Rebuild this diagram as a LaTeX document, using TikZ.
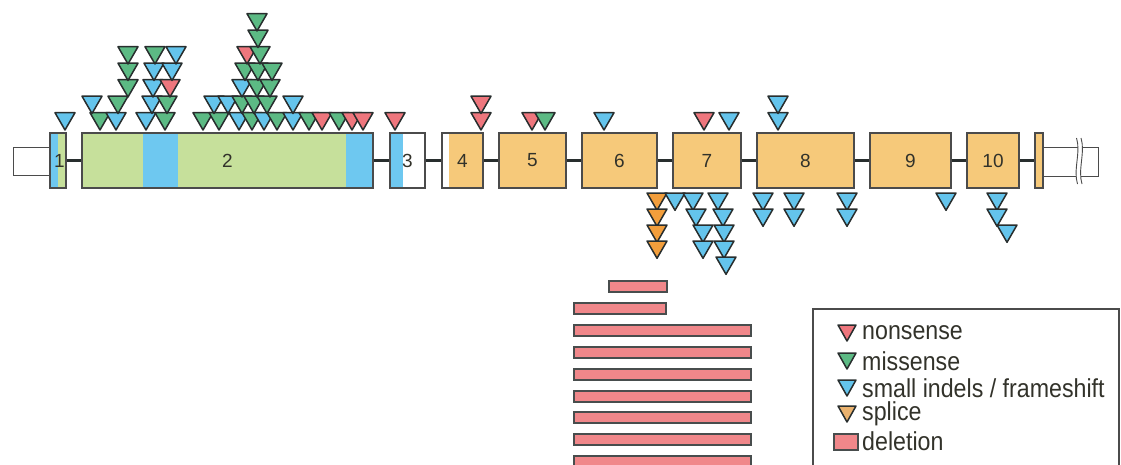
\documentclass[tikz,border=0pt]{standalone}
\usepackage{fontspec}
\setmainfont{Liberation Sans}
\definecolor{exgreen}{RGB}{198,224,155}
\definecolor{exblue}{RGB}{110,200,240}
\definecolor{exorange}{RGB}{246,201,122}
\definecolor{tred}{RGB}{238,118,125}
\definecolor{tgreen}{RGB}{92,186,132}
\definecolor{tblue}{RGB}{100,196,236}
\definecolor{torange}{RGB}{242,158,60}
\definecolor{tsplice}{RGB}{234,178,110}
\definecolor{delred}{RGB}{240,135,138}
\definecolor{outl}{RGB}{40,46,46}
\definecolor{exline}{RGB}{75,75,75}
\definecolor{txt}{RGB}{50,50,42}
\newcommand\mt[3]{\draw[mut, fill=#1] (#2-10,#3-17.3) -- (#2+10,#3-17.3) -- (#2,#3) -- cycle;}
\newcommand\lt[3]{\draw[mut, fill=#1] (#2-9,#3-8) -- (#2+9,#3-8) -- (#2,#3+8) -- cycle;}
\begin{document}
\begin{tikzpicture}[x=1pt,y=-1pt,
  exon/.style={draw=exline, line width=1.4pt, rectangle, inner sep=0pt, minimum height=55pt, text=txt, font=\fontsize{19}{19}\selectfont},
  utr/.style={draw=exline, line width=1pt, rectangle, inner sep=0pt},
  intron/.style={draw=outl, line width=2.2pt},
  mut/.style={draw=outl, line width=1.5pt, line join=round},
  del/.style={draw=outl!85, line width=1.5pt, fill=delred, rectangle, inner sep=0pt, minimum height=11pt, anchor=north west},
  legtxt/.style={anchor=west, inner sep=0pt, text=txt, font=\fontsize{23.2}{23}\selectfont}
]
\useasboundingbox (0,0) rectangle (1121,464);
\clip (0,0) rectangle (1121,464);

% ---- fills of exons
\fill[exblue] (50,133) rectangle (58,188);
\fill[exgreen] (58,133) rectangle (66,188);
\fill[exgreen] (82,133) rectangle (373,188);
\fill[exblue] (143,133) rectangle (178,188);
\fill[exblue] (346,133) rectangle (373,188);
\fill[exblue] (390,133) rectangle (403,188);
\fill[exorange] (449,133) rectangle (483,188);
\fill[exorange] (499,133) rectangle (566,188);
\fill[exorange] (582,133) rectangle (657,188);
\fill[exorange] (673,133) rectangle (741,188);
\fill[exorange] (757,133) rectangle (854,188);
\fill[exorange] (870,133) rectangle (951,188);
\fill[exorange] (967,133) rectangle (1019,188);
\fill[exorange] (1035,133) rectangle (1043,188);

% ---- UTRs
\node[utr, minimum width=37pt, minimum height=28pt] (u5) at (31.5,161) {};
\node[utr, minimum width=55pt, minimum height=29pt] (u3) at (1070.5,161.5) {};
\fill[white] (1076.5,138) .. controls (1081,152) and (1073,170) .. (1077.5,184) -- (1082,184) .. controls (1077.5,170) and (1085.5,152) .. (1081,138) -- cycle;
\draw[exline, line width=0.9pt] (1076.5,138) .. controls (1081,152) and (1073,170) .. (1077.5,184);
\draw[exline, line width=0.9pt] (1081,138) .. controls (1085.5,152) and (1077.5,170) .. (1082,184);

% ---- exons
\node[exon, minimum width=16pt] (e1) at (58,160.5) {\hspace*{3pt}1};
\node[exon, minimum width=291pt] (e2) at (227.5,160.5) {2};
\node[exon, minimum width=35pt] (e3) at (407.5,160.5) {3};
\node[exon, minimum width=41pt] (e4) at (462.5,160.5) {4};
\node[exon, minimum width=67pt] (e5) at (532.5,160.5) {5};
\node[exon, minimum width=75pt] (e6) at (619.5,160.5) {6};
\node[exon, minimum width=68pt] (e7) at (707,160.5) {7};
\node[exon, minimum width=97pt] (e8) at (805.5,160.5) {8};
\node[exon, minimum width=81pt] (e9) at (910.5,160.5) {9};
\node[exon, minimum width=52pt] (e10) at (993,160.5) {10};
\node[exon, minimum width=8pt] (e11) at (1039,160.5) {};

% ---- introns
\draw[intron] (e1.east) -- (e2.west);
\draw[intron] (e2.east) -- (e3.west);
\draw[intron] (e3.east) -- (e4.west);
\draw[intron] (e4.east) -- (e5.west);
\draw[intron] (e5.east) -- (e6.west);
\draw[intron] (e6.east) -- (e7.west);
\draw[intron] (e7.east) -- (e8.west);
\draw[intron] (e8.east) -- (e9.west);
\draw[intron] (e9.east) -- (e10.west);
\draw[intron] (e10.east) -- (e11.west);

% ---- mutations above (apex y)
% row A
\mt{tblue}{65}{130}
\mt{tgreen}{100}{130}\mt{tblue}{116}{130}\mt{tblue}{146}{130}\mt{tgreen}{165}{130}
\mt{tgreen}{203}{130}\mt{tgreen}{219}{130}\mt{tblue}{239}{130}\mt{tgreen}{252}{130}
\mt{tblue}{264}{130}\mt{tgreen}{277}{130}\mt{tblue}{293}{130}\mt{tgreen}{309}{130}
\mt{tred}{322}{130}\mt{tgreen}{339}{130}\mt{tred}{352}{130}\mt{tred}{363}{130}
\mt{tred}{395}{130}
\mt{tred}{481}{130}
\mt{tred}{532}{130}\mt{tgreen}{545}{130}
\mt{tblue}{604}{130}
\mt{tred}{704}{130}\mt{tblue}{729}{130}
\mt{tblue}{778}{130}
% row B
\mt{tblue}{92}{113.5}\mt{tgreen}{118}{113.5}\mt{tblue}{152}{113.5}\mt{tgreen}{167}{113.5}
\mt{tblue}{214}{113.5}\mt{tblue}{228}{113.5}\mt{tgreen}{242}{113.5}\mt{tgreen}{254}{113.5}\mt{tgreen}{267}{113.5}\mt{tblue}{293}{113.5}
\mt{tred}{481}{113.5}
\mt{tblue}{778}{113.5}
% row C
\mt{tgreen}{128}{97}\mt{tblue}{153}{97}\mt{tred}{170}{97}
\mt{tblue}{242}{97}\mt{tgreen}{257}{97}\mt{tgreen}{270}{97}
% row D
\mt{tgreen}{128}{80.5}\mt{tblue}{154}{80.5}\mt{tblue}{172}{80.5}
\mt{tgreen}{245}{80.5}\mt{tgreen}{258}{80.5}\mt{tgreen}{272}{80.5}
% row E
\mt{tgreen}{128}{64}\mt{tgreen}{155}{64}\mt{tblue}{176}{64}
\mt{tred}{247}{64}\mt{tgreen}{260}{64}
% rows F, G
\mt{tgreen}{258}{47.5}
\mt{tgreen}{257}{31}

% ---- mutations below (apex y)
\mt{torange}{657}{210.3}\mt{torange}{657}{226.3}\mt{torange}{657}{242.3}\mt{torange}{657}{258.3}
\mt{tblue}{675}{210.3}
\mt{tblue}{693}{210.3}\mt{tblue}{696}{226.3}\mt{tblue}{703}{242.3}\mt{tblue}{703}{258.3}
\mt{tblue}{718}{210.3}\mt{tblue}{723}{226.3}\mt{tblue}{724}{242.3}\mt{tblue}{724}{258.3}\mt{tblue}{726}{274.3}
\mt{tblue}{763}{210.3}\mt{tblue}{763}{226.3}
\mt{tblue}{794}{210.3}\mt{tblue}{794}{226.3}
\mt{tblue}{847}{210.3}\mt{tblue}{847}{226.3}
\mt{tblue}{946}{210.3}
\mt{tblue}{997}{210.3}\mt{tblue}{997}{226.3}\mt{tblue}{1007}{242.3}

% ---- deletions
\node[del, minimum width=58pt] (d1) at (608,280) {};
\node[del, minimum width=92pt] (d2) at (573,302) {};
\foreach \i/\y in {3/324,4/346,5/368,6/390,7/411,8/433,9/455}
  \node[del, minimum width=177pt] (d\i) at (573,\y) {};

% ---- legend
\draw[exline, line width=1.1pt] (813,309) rectangle (1119,480);
\lt{tred}{847}{333}
\lt{tgreen}{847}{361}
\lt{tblue}{847}{388}
\lt{tsplice}{847}{414}
\node[del, minimum width=24pt, minimum height=16pt] (dl) at (833,433) {};
\node[legtxt] (l1) at (862,333) {\scalebox{1}[1.12]{nonsense}};
\node[legtxt] (l2) at (862,361) {\scalebox{1}[1.12]{missense}};
\node[legtxt] (l3) at (862,388) {\scalebox{1}[1.12]{small indels / frameshift}};
\node[legtxt] (l4) at (862,414) {\scalebox{1}[1.12]{splice}};
\node[legtxt] (l5) at (862,441) {\scalebox{1}[1.12]{deletion}};
\end{tikzpicture}
\end{document}
